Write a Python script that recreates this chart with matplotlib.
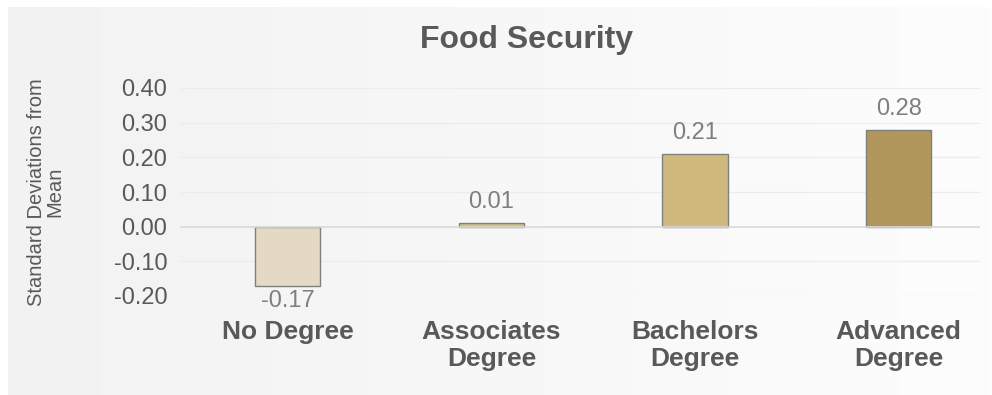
import numpy as np
import matplotlib.pyplot as plt
from matplotlib.colors import LinearSegmentedColormap

plt.rcParams['font.family'] = ['Liberation Sans', 'DejaVu Sans']

# Chart data
categories = ['No Degree', 'Associates\nDegree', 'Bachelors\nDegree', 'Advanced\nDegree']
values = [-0.17, 0.01, 0.21, 0.28]
bar_colors = ['#e4d9c4', '#d3bd84', '#cfb97c', '#b1975c']
yticks = [-0.20, -0.10, 0.00, 0.10, 0.20, 0.30, 0.40]

fig = plt.figure(figsize=(9.92, 3.95), dpi=100)
fig.patch.set_facecolor('white')

# Soft grey-to-white background panel
bg = fig.add_axes([8 / 992, 0.0, 1 - 8 / 992, 1 - 7 / 395], zorder=0)
grad = np.linspace(0, 1, 256).reshape(1, -1)
bg.imshow(grad, aspect='auto', extent=[0, 1, 0, 1],
          cmap=LinearSegmentedColormap.from_list('bg', ['#f2f2f2', '#fdfdfd']))
bg.set_axis_off()

# Plot area
left, right = 180 / 992, 980 / 992
top, bottom = 1 - 88 / 395, 1 - 296 / 395
ax = fig.add_axes([left, bottom, right - left, top - bottom], zorder=1)
ax.patch.set_alpha(0)

x = np.arange(len(categories))
ax.bar(x, values, width=0.32, color=bar_colors, edgecolor='#7f7f7f', linewidth=1, zorder=3)

ax.set_ylim(-0.20, 0.40)
ax.set_xlim(-0.53, 3.4)
ax.set_yticks(yticks)
ax.set_yticklabels([f'{t:.2f}' for t in yticks], fontsize=17, color='#595959')
ax.tick_params(axis='y', length=0, pad=9)
ax.tick_params(axis='x', length=0, pad=17)
ax.set_xticks(x)
ax.set_xticklabels(categories, fontsize=19, fontweight='bold', color='#595959',
                   linespacing=1.2, va='top')

for t in yticks:
    ax.axhline(t, color='#d9d9d9' if t == 0 else '#ececec',
               linewidth=1.2 if t == 0 else 0.9, zorder=1 if t else 4)
for s in ax.spines.values():
    s.set_visible(False)

# Value labels
for xi, v in zip(x, values):
    off = 7 if v >= 0 else -3
    ax.annotate(f'{v:.2f}', (xi, v), xytext=(0, off), textcoords='offset points',
                ha='center', va='bottom' if v >= 0 else 'top', fontsize=17, color='#7f7f7f')

fig.text(527 / 992, 1 - 40 / 395, 'Food Security', ha='center', va='center',
         fontsize=23, fontweight='bold', color='#595959')
fig.text(46 / 992, 1 - 192 / 395, 'Standard Deviations from\nMean', ha='center', va='center',
         rotation=90, fontsize=14.5, color='#595959', linespacing=0.95)

fig.savefig('out.png', dpi=100)
